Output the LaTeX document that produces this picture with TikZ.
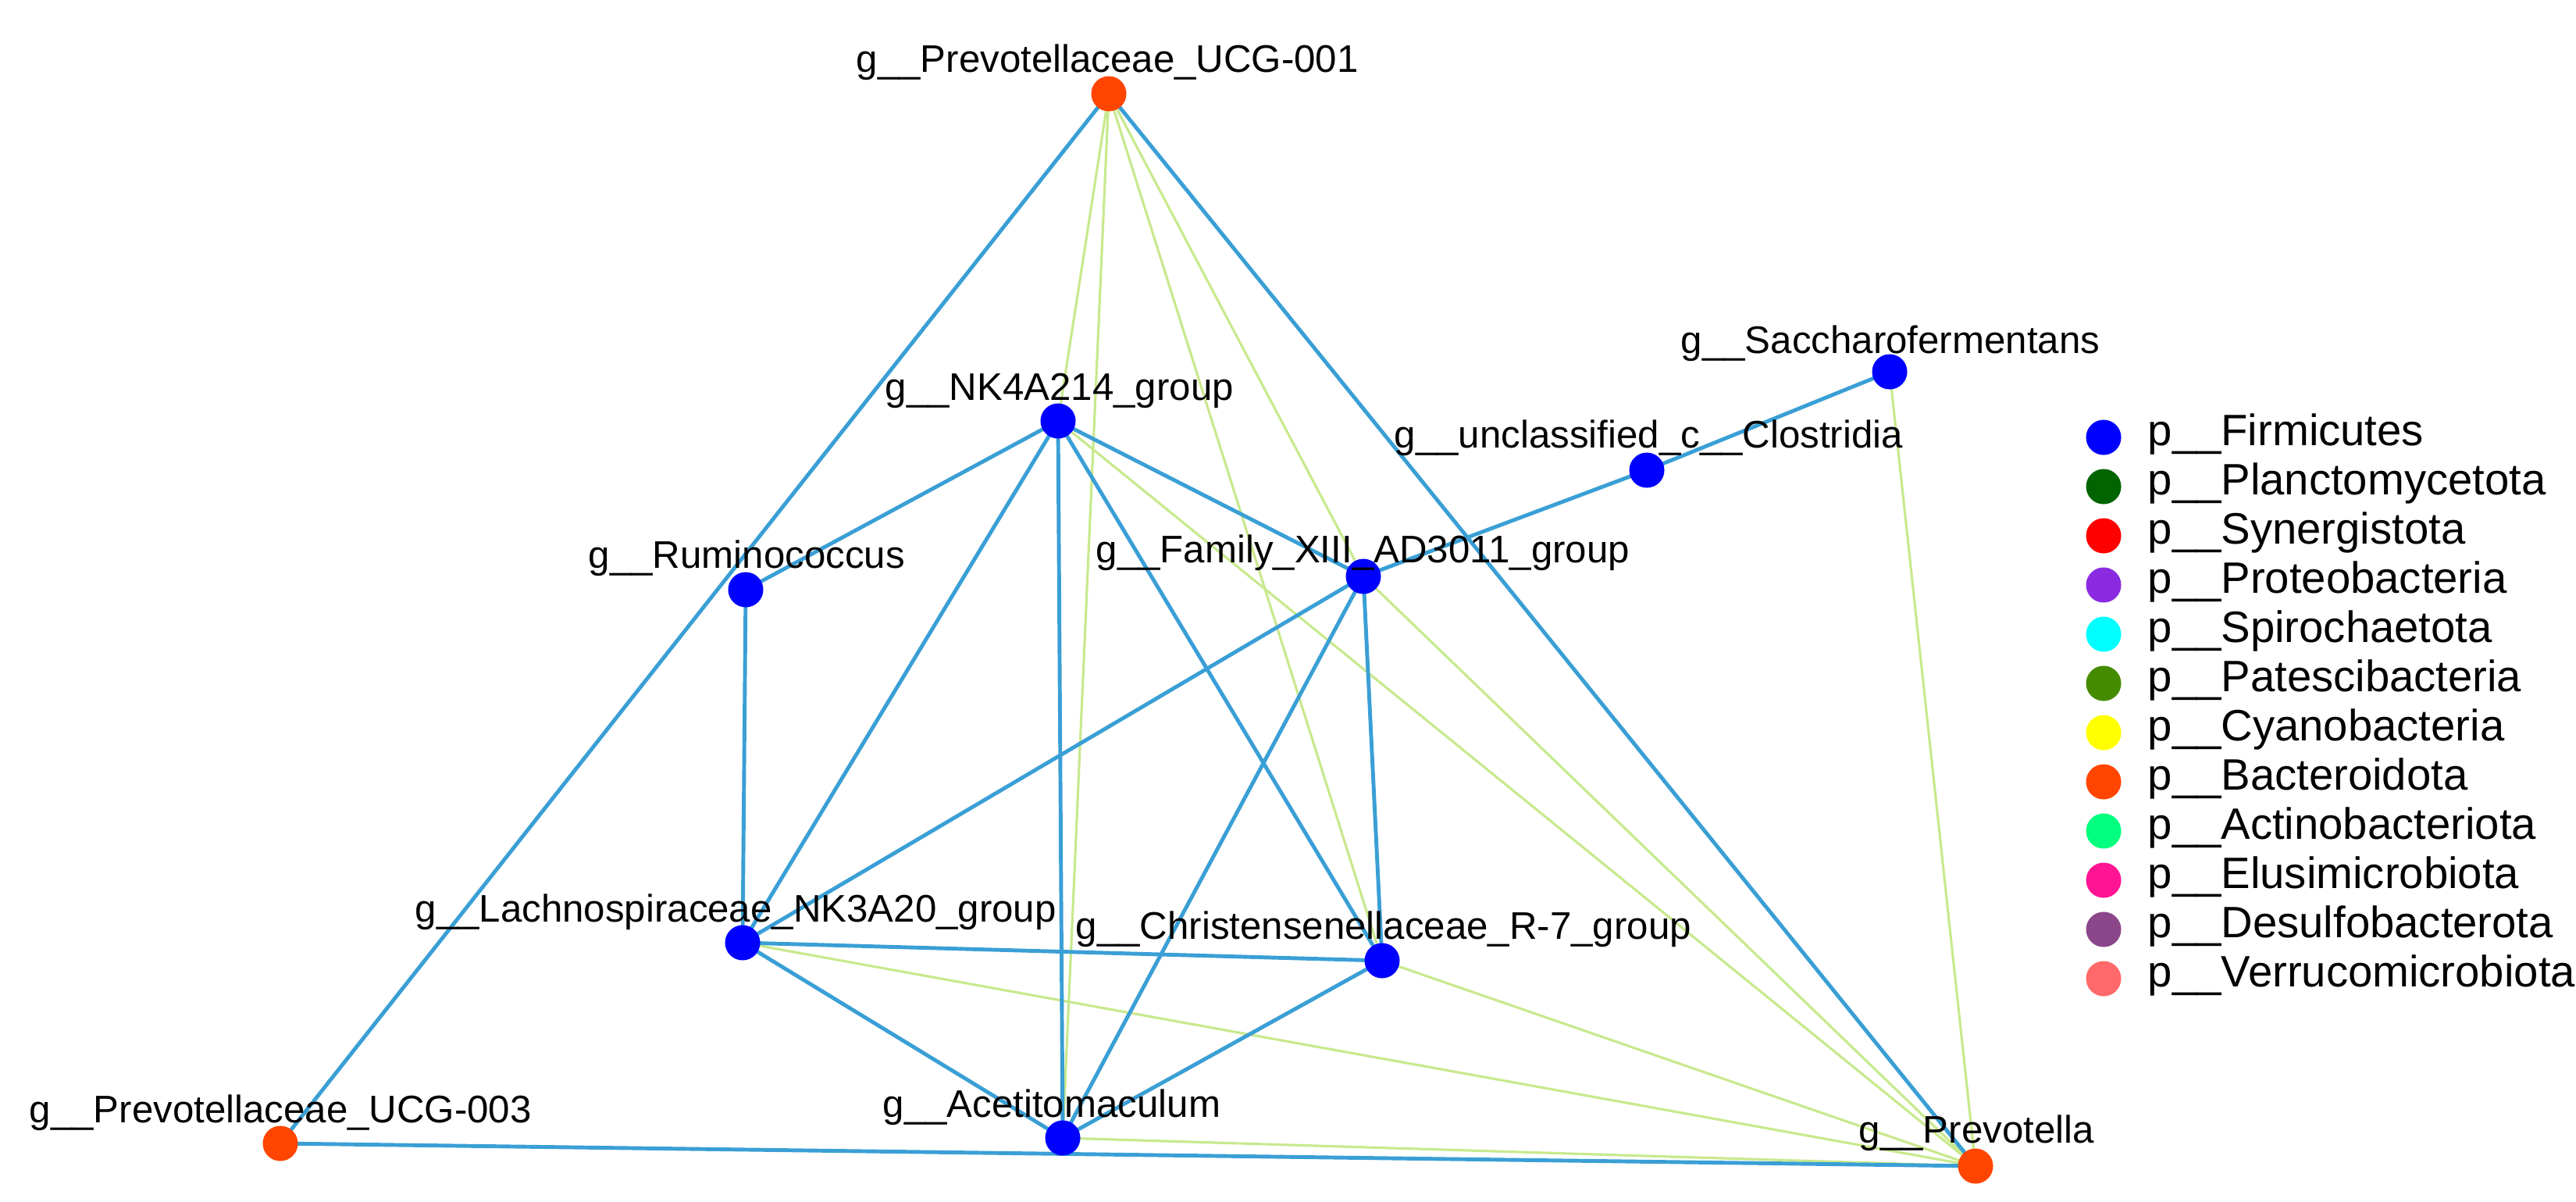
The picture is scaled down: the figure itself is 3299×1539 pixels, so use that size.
\documentclass[tikz,border=0pt]{standalone}
\usepackage{fontspec}
\setmainfont{Liberation Sans}
\begin{document}
\begin{tikzpicture}[x=0.01cm,y=-0.01cm,
  nd/.style={circle,inner sep=0pt,minimum size=0.45cm},
  fir/.style={nd,fill={rgb,255:red,0;green,0;blue,255}},
  bac/.style={nd,fill={rgb,255:red,255;green,69;blue,0}},
  lab/.style={font=\fontsize{14}{16}\selectfont,inner sep=0pt,anchor=base west},
  be/.style={draw={rgb,255:red,58;green,159;blue,213},line width=1.4pt},
  ge/.style={draw={rgb,255:red,200;green,233;blue,142},line width=0.9pt},
  leg/.style={font=\fontsize{16}{18}\selectfont,anchor=base west,inner sep=0pt}]
\useasboundingbox (0,0) rectangle (3299,1539);
\coordinate (p001) at (1420,120);
\coordinate (nk) at (1355,539);
\coordinate (sac) at (2420,476);
\coordinate (unc) at (2109,602);
\coordinate (fam) at (1746,738);
\coordinate (rum) at (955,755);
\coordinate (lac) at (951,1207);
\coordinate (chr) at (1770,1230);
\coordinate (p003) at (359,1464);
\coordinate (ace) at (1361,1457);
\coordinate (pre) at (2530,1493);
% green edges
\draw[ge] (p001)--(nk); \draw[ge] (p001)--(ace); \draw[ge] (p001)--(chr); \draw[ge] (p001)--(fam);
\draw[ge] (nk)--(pre); \draw[ge] (fam)--(pre); \draw[ge] (chr)--(pre); \draw[ge] (lac)--(pre);
\draw[ge] (ace)--(pre); \draw[ge] (sac)--(pre);
% blue edges
\draw[be] (p001)--(p003); \draw[be] (p001)--(pre); \draw[be] (p003)--(pre);
\draw[be] (nk)--(rum); \draw[be] (nk)--(lac); \draw[be] (nk)--(ace); \draw[be] (nk)--(chr); \draw[be] (nk)--(fam);
\draw[be] (rum)--(lac); \draw[be] (lac)--(chr); \draw[be] (lac)--(ace); \draw[be] (chr)--(ace);
\draw[be] (fam)--(chr); \draw[be] (fam)--(ace); \draw[be] (fam)--(lac); \draw[be] (fam)--(unc); \draw[be] (unc)--(sac);
% nodes
\node[bac] (P001) at (p001) {}; \node[bac] (P003) at (p003) {}; \node[bac] (PRE) at (pre) {};
\node[fir] (NK) at (nk) {}; \node[fir] (SAC) at (sac) {}; \node[fir] (UNC) at (unc) {};
\node[fir] (FAM) at (fam) {}; \node[fir] (RUM) at (rum) {}; \node[fir] (LAC) at (lac) {};
\node[fir] (CHR) at (chr) {}; \node[fir] (ACE) at (ace) {};
% labels
\node[lab] (l1) at (1096,92) {g\_\_Prevotellaceae\_UCG-001};
\node[lab] (l2) at (1133,512) {g\_\_NK4A214\_group};
\node[lab] (l3) at (2152,452) {g\_\_Saccharofermentans};
\node[lab] (l4) at (1785,573) {g\_\_unclassified\_c\_\_Clostridia};
\node[lab] (l5) at (1403,720) {g\_\_Family\_XIII\_AD3011\_group};
\node[lab] (l6) at (753,727) {g\_\_Ruminococcus};
\node[lab] (l7) at (531,1180) {g\_\_Lachnospiraceae\_NK3A20\_group};
\node[lab] (l8) at (1377,1202) {g\_\_Christensenellaceae\_R-7\_group};
\node[lab] (l9) at (37,1437) {g\_\_Prevotellaceae\_UCG-003};
\node[lab] (l10) at (1130,1430) {g\_\_Acetitomaculum};
\node[lab] (l11) at (2380,1463) {g\_\_Prevotella};
% legend
\foreach \c/\t [count=\i from 0] in {{0,0,255}/Firmicutes,{0,100,0}/Planctomycetota,{255,0,0}/Synergistota,{138,43,226}/Proteobacteria,{0,255,255}/Spirochaetota,{69,139,0}/Patescibacteria,{255,255,0}/Cyanobacteria,{255,69,0}/Bacteroidota,{0,255,127}/Actinobacteriota,{255,20,147}/Elusimicrobiota,{139,71,137}/Desulfobacterota,{255,105,105}/Verrucomicrobiota}{
  \definecolor{lc\i}{RGB}{\c}
  \node[nd,fill=lc\i] (d\i) at (2694,560+63*\i) {};
  \node[leg] (t\i) at (2750,570+63*\i) {p\_\_\t};
}
\end{tikzpicture}
\end{document}
